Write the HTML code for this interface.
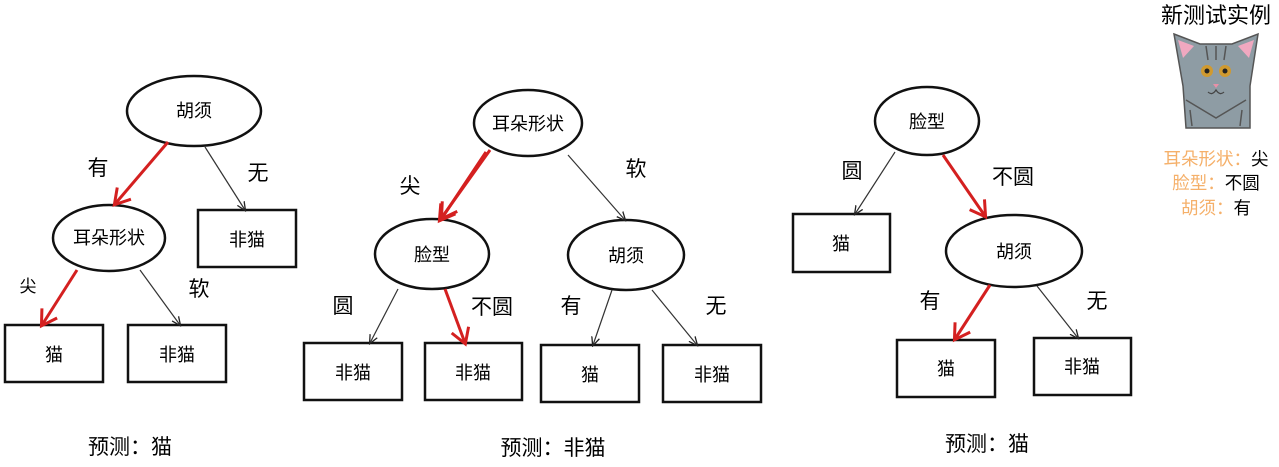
<!DOCTYPE html>
<html><head><meta charset="utf-8"><style>
body{margin:0;background:#fff}
svg text{font-family:"Liberation Sans","Noto Sans CJK SC",sans-serif;}
</style></head><body>
<svg width="1279" height="462" viewBox="0 0 1279 462" xmlns="http://www.w3.org/2000/svg">
<defs>
<marker id="ab" markerWidth="10" markerHeight="10" refX="8" refY="5" orient="auto" markerUnits="userSpaceOnUse"><path d="M0,1 L9,5 L0,9" fill="none" stroke="#222" stroke-width="1.3"/></marker>
<marker id="ar" markerWidth="22" markerHeight="22" refX="16" refY="11" orient="auto" markerUnits="userSpaceOnUse"><path d="M2,2 L17,11 L2,20" fill="none" stroke="#d42020" stroke-width="3"/></marker>
</defs>
<g fill="none" stroke="#111" stroke-width="2.5">
<ellipse cx="194" cy="111" rx="67" ry="35"/>
<ellipse cx="109" cy="238" rx="56" ry="33"/>
<rect x="198" y="210" width="98" height="57"/>
<rect x="5" y="325" width="98" height="57"/>
<rect x="128" y="325" width="98" height="57"/>
<ellipse cx="528" cy="123" rx="54" ry="33"/>
<ellipse cx="432" cy="254" rx="57" ry="35"/>
<ellipse cx="626" cy="255" rx="58" ry="35"/>
<rect x="304" y="343" width="98" height="57"/>
<rect x="425" y="343" width="97" height="57"/>
<rect x="541" y="345" width="98" height="57"/>
<rect x="663" y="345" width="98" height="57"/>
<ellipse cx="927" cy="121" rx="52" ry="34"/>
<ellipse cx="1014" cy="251" rx="68" ry="36"/>
<rect x="793" y="214" width="97" height="58"/>
<rect x="897" y="340" width="98" height="57"/>
<rect x="1034" y="338" width="97" height="57"/>
</g>
<g stroke="#333" stroke-width="1.2" marker-end="url(#ab)">
<line x1="205" y1="147" x2="245" y2="210"/>
<line x1="140" y1="270" x2="180" y2="325"/>
<line x1="568" y1="155" x2="625" y2="220"/>
<line x1="398" y1="289" x2="370" y2="343"/>
<line x1="612" y1="290" x2="593" y2="345"/>
<line x1="652" y1="290" x2="697" y2="345"/>
<line x1="895" y1="152" x2="855" y2="214"/>
<line x1="1037" y1="286" x2="1078" y2="338"/>
</g>
<g stroke="#d42020" stroke-width="3" marker-end="url(#ar)">
<line x1="168" y1="142" x2="115" y2="204"/>
<line x1="77" y1="270" x2="42" y2="325"/>
<line x1="490" y1="150" x2="440" y2="220"/>
<line x1="486" y1="152" x2="442" y2="218"/>
<line x1="445" y1="289" x2="465" y2="343"/>
<line x1="943" y1="155" x2="985" y2="216"/>
<line x1="990" y1="285" x2="955" y2="339"/>
</g>
<g font-size="18" text-anchor="middle" fill="#000">
<text x="194" y="117">胡须</text>
<text x="109" y="244">耳朵形状</text>
<text x="247" y="246">非猫</text>
<text x="54" y="361">猫</text>
<text x="177" y="361">非猫</text>
<text x="528" y="130">耳朵形状</text>
<text x="432" y="261">脸型</text>
<text x="626" y="262">胡须</text>
<text x="353" y="379">非猫</text>
<text x="473" y="379">非猫</text>
<text x="590" y="381">猫</text>
<text x="712" y="381">非猫</text>
<text x="927" y="128">脸型</text>
<text x="1014" y="258">胡须</text>
<text x="841" y="250">猫</text>
<text x="946" y="375">猫</text>
<text x="1082" y="373">非猫</text>
</g>
<g font-size="21" text-anchor="middle" fill="#000">
<text x="98" y="175">有</text>
<text x="258" y="180">无</text>
<text x="28" y="292" font-size="17">尖</text>
<text x="199" y="296">软</text>
<text x="410" y="193">尖</text>
<text x="636" y="176">软</text>
<text x="343" y="313">圆</text>
<text x="492" y="314">不圆</text>
<text x="571" y="313">有</text>
<text x="716" y="313">无</text>
<text x="852" y="178">圆</text>
<text x="1013" y="184">不圆</text>
<text x="930" y="308">有</text>
<text x="1097" y="308">无</text>
<text x="130" y="454">预测：猫</text>
<text x="553" y="455">预测：非猫</text>
<text x="987" y="451">预测：猫</text>
<text x="1216" y="23" font-size="22">新测试实例</text>
</g>
<g font-size="17.5" text-anchor="middle">
<text x="1216" y="165"><tspan fill="#f5b06a">耳朵形状：</tspan><tspan fill="#000">尖</tspan></text>
<text x="1216" y="189"><tspan fill="#f5b06a">脸型：</tspan><tspan fill="#000">不圆</tspan></text>
<text x="1216" y="214"><tspan fill="#f5b06a">胡须：</tspan><tspan fill="#000">有</tspan></text>
</g>
<g>
<path d="M1174,34 L1200,44 L1232,44 L1258,34 L1250,86 L1250,128 L1186,128 L1183,86 Z" fill="#8e9ca4" stroke="#555" stroke-width="1.5"/>
<path d="M1178,40 L1194,46 L1183,58 Z" fill="#f0a8c0"/>
<path d="M1254,40 L1238,46 L1249,58 Z" fill="#f0a8c0"/>
<path d="M1186,100 L1216,118 L1246,100" fill="none" stroke="#555" stroke-width="1.5"/>
<g stroke="#555" stroke-width="1.5">
<line x1="1206" y1="46" x2="1208" y2="60"/><line x1="1216" y1="46" x2="1216" y2="60"/><line x1="1226" y1="46" x2="1224" y2="60"/>
<line x1="1190" y1="110" x2="1192" y2="126"/><line x1="1242" y1="110" x2="1240" y2="126"/>
</g>
<circle cx="1207" cy="71" r="6" fill="#d09a30"/><circle cx="1225" cy="71" r="6" fill="#d09a30"/>
<circle cx="1207" cy="71" r="2.5" fill="#222"/><circle cx="1225" cy="71" r="2.5" fill="#222"/>
<path d="M1213,84 L1219,84 L1216,88 Z" fill="#e890a8"/>
<path d="M1208,92 Q1212,96 1216,90 Q1220,96 1224,92" fill="none" stroke="#444" stroke-width="1.2"/>
</g>
</svg>
</body></html>
